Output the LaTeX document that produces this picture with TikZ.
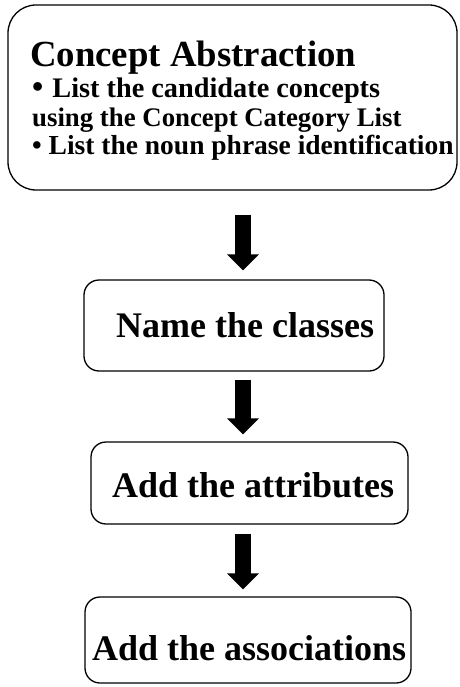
\documentclass[tikz,border=0pt]{standalone}
\usepackage{fontspec}
\setmainfont{Liberation Serif}
\usetikzlibrary{arrows.meta}
\begin{document}
\begin{tikzpicture}[x=1pt,y=-1pt,
  stagebox/.style={draw=black,line width=1.3pt,rounded corners=#1,inner sep=0pt},
  bigtext/.style={anchor=base west,inner sep=0pt,font=\fontsize{36}{36}\selectfont\bfseries},
  itemtext/.style={anchor=base west,inner sep=0pt,font=\fontsize{27.5}{27.5}\selectfont\bfseries},
  flowarrow/.style={line width=16pt,-{Triangle[width=31pt,length=16pt]}}]
  \useasboundingbox (0,0) rectangle (459,687);

  % the four stage boxes
  \node[stagebox=28pt,minimum width=449pt,minimum height=185pt] (abstr) at (232.5,97.5) {};
  \node[stagebox=15pt,minimum width=300pt,minimum height=91pt]  (names) at (234,325.5) {};
  \node[stagebox=15pt,minimum width=317pt,minimum height=82pt]  (attrs) at (249.5,483) {};
  \node[stagebox=15pt,minimum width=326pt,minimum height=86pt]  (assoc) at (248,640) {};

  % box contents
  \node[bigtext,font=\fontsize{36.8}{36.8}\selectfont\bfseries] (title) at (30,67) {Concept Abstraction};
  \node[itemtext,font=\fontsize{28.3}{28.3}\selectfont\bfseries] (itemA) at (32,98)
       {{\fontsize{32}{32}\selectfont\textbullet}\hspace{9pt}List the candidate concepts};
  \node[itemtext,font=\fontsize{26.8}{26.8}\selectfont\bfseries] (itemB) at (32,127) {using the Concept Category List};
  \node[itemtext] (itemC) at (32,155) {\textbullet\ List the noun phrase identification};
  \node[bigtext]  (lblN)  at (116,337) {Name the classes};
  \node[bigtext]  (lblT)  at (112,497) {Add the attributes};
  \node[bigtext]  (lblS)  at (92,660)  {Add the associations};

  % thick arrows between the stages
  \coordinate (ax) at (243,0);
  \draw[flowarrow,shorten <=24pt,shorten >=9pt] (abstr.south -| ax) -- (names.north -| ax);
  \draw[flowarrow,shorten <=8pt,shorten >=7pt]  (names.south -| ax) -- (attrs.north -| ax);
  \draw[flowarrow,shorten <=9pt,shorten >=7pt]  (attrs.south -| ax) -- (assoc.north -| ax);
\end{tikzpicture}
\end{document}
